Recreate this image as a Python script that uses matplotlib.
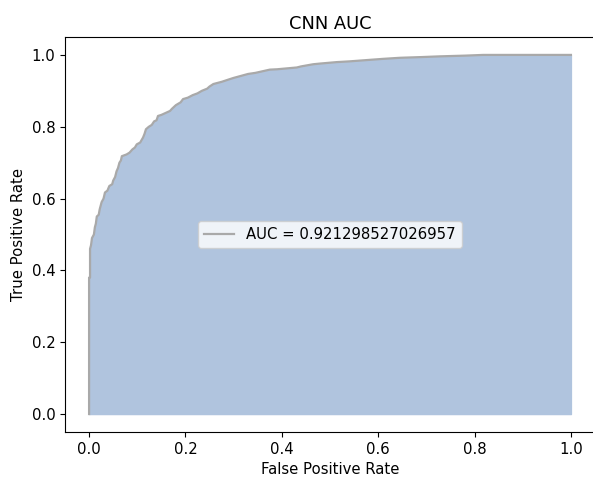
import matplotlib
matplotlib.use("Agg")
import matplotlib.pyplot as plt

fpr = [0.000, 0.000, 0.002, 0.002, 0.004, 0.006, 0.010, 0.012, 0.014, 0.016,
       0.020, 0.022, 0.026, 0.030, 0.033, 0.038, 0.042, 0.048, 0.050, 0.054,
       0.057, 0.060, 0.063, 0.066, 0.068, 0.078, 0.084, 0.090, 0.095, 0.099,
       0.106, 0.112, 0.115, 0.118, 0.124, 0.130, 0.135, 0.140, 0.143, 0.150,
       0.168, 0.172, 0.180, 0.190, 0.195, 0.205, 0.215, 0.225, 0.234, 0.245,
       0.250, 0.258, 0.275, 0.293, 0.300, 0.330, 0.345, 0.375, 0.390, 0.431,
       0.440, 0.465, 0.480, 0.514, 0.540, 0.590, 0.610, 0.645, 0.690, 0.728,
       0.780, 0.818, 1.000]
tpr = [0.000, 0.380, 0.380, 0.460, 0.470, 0.490, 0.500, 0.520, 0.530, 0.550,
       0.555, 0.570, 0.590, 0.600, 0.617, 0.622, 0.635, 0.640, 0.650, 0.660,
       0.676, 0.685, 0.700, 0.706, 0.718, 0.723, 0.728, 0.737, 0.742, 0.751,
       0.756, 0.770, 0.780, 0.793, 0.800, 0.805, 0.815, 0.818, 0.830, 0.833,
       0.844, 0.850, 0.860, 0.868, 0.877, 0.881, 0.888, 0.893, 0.900, 0.906,
       0.912, 0.919, 0.925, 0.933, 0.936, 0.947, 0.950, 0.959, 0.960, 0.965,
       0.968, 0.974, 0.976, 0.980, 0.982, 0.987, 0.989, 0.992, 0.994, 0.996,
       0.998, 1.000, 1.000]
auc_value = 0.921298527026957

plt.rcParams['font.size'] = 10.7
fig = plt.figure(figsize=(5.93, 4.80), dpi=100)
ax = fig.add_axes([0.1096, 0.1, 0.8938, 0.823])
ax.fill_between(fpr, tpr, color='lightsteelblue')
ax.plot(fpr, tpr, color='darkgray', lw=1.6, label='AUC = ' + str(auc_value))
ax.spines['right'].set_visible(False)
ax.set_title('CNN AUC')
ax.set_xlabel('False Positive Rate')
ax.set_ylabel('True Positive Rate')
ax.legend(loc='center')
fig.savefig('out.png', dpi=100)
